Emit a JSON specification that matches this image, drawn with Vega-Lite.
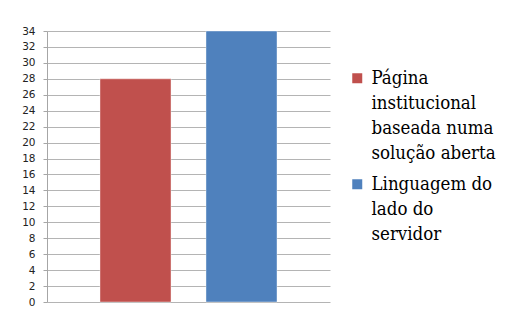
{
  "$schema": "https://vega.github.io/schema/vega-lite/v6.json",
  "width": 283,
  "height": 271,
  "autosize": {"type": "none"},
  "padding": {"left": 47, "top": 31, "right": 177, "bottom": 11},
  "background": "white",
  "data": {
    "values": [
      {"serie": "Página institucional baseada numa solução aberta", "valor": 28},
      {"serie": "Linguagem do lado do servidor", "valor": 34}
    ]
  },
  "mark": {"type": "bar", "stroke": "#ffffff", "strokeOpacity": 0.4, "strokeWidth": 1},
  "encoding": {
    "x": {
      "field": "serie",
      "type": "nominal",
      "sort": null,
      "axis": null,
      "scale": {"paddingInner": 0.33, "paddingOuter": 0.5}
    },
    "y": {
      "field": "valor",
      "type": "quantitative",
      "scale": {"domain": [0, 34], "nice": false},
      "axis": {
        "title": null,
        "values": [0, 2, 4, 6, 8, 10, 12, 14, 16, 18, 20, 22, 24, 26, 28, 30, 32, 34],
        "labelFont": "DejaVu Sans",
        "labelFontSize": 10.5,
        "labelColor": "#222222",
        "labelPadding": 8,
        "tickSize": 4,
        "tickColor": "#a6a6a6",
        "domainColor": "#a6a6a6",
        "gridColor": "#b4b4b4",
        "grid": true
      }
    },
    "color": {
      "field": "serie",
      "type": "nominal",
      "sort": null,
      "scale": {"range": ["#C0504D", "#4F81BD"]},
      "legend": {
        "title": null,
        "orient": "none",
        "legendX": 301,
        "legendY": 38,
        "symbolType": "square",
        "symbolSize": 100,
        "symbolStrokeWidth": 0,
        "symbolOpacity": 1,
        "labelFont": "'DejaVu Serif Condensed', 'DejaVu Serif'",
        "labelFontSize": 18.5,
        "labelColor": "#000000",
        "labelLimit": 200,
        "labelOffset": 5,
        "rowPadding": 12,
        "labelExpr": "datum.label == 'Linguagem do lado do servidor' ? ['Linguagem do', 'lado do', 'servidor'] : ['Página', 'institucional', 'baseada numa', 'solução aberta']"
      }
    }
  },
  "config": {
    "view": {"stroke": null},
    "style": {"guide-label": {"lineHeight": 25}}
  }
}
